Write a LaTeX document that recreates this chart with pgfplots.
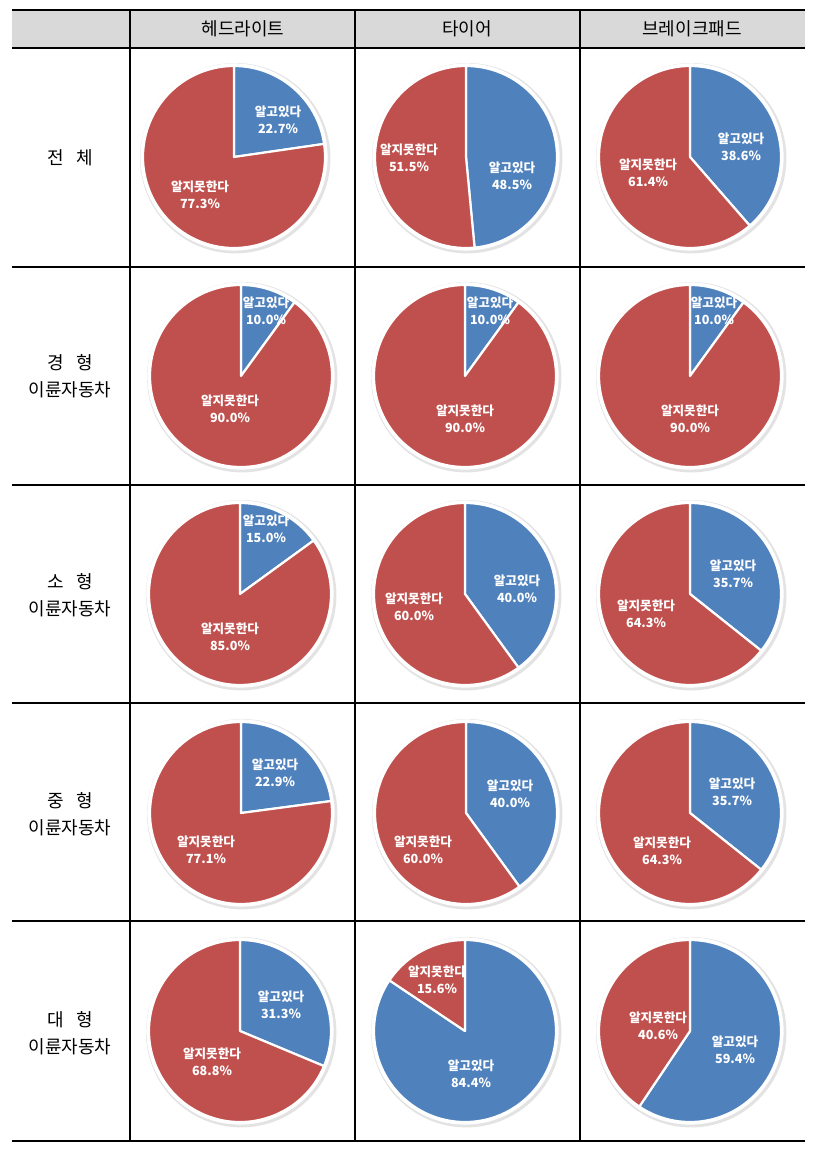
\documentclass[border=0pt]{standalone}
\usepackage{pgfplots}
\pgfplotsset{compat=1.18}
\usepackage{fontspec}
\setmainfont{Noto Sans CJK KR}
\definecolor{pblue}{HTML}{4F81BD}
\definecolor{pred}{HTML}{C0504D}
\definecolor{hgray}{HTML}{D9D9D9}
% pie: cx, cy, percentage of 알고있다 (clockwise from 12 o'clock)
\newcommand{\pie}[3]{%
  \fill[gray!22] (axis cs:#1,#2) ++(0.6pt,-0.6pt) circle[radius=47.6pt];
  \fill[white] (axis cs:#1,#2) circle[radius=46.8pt];
  \filldraw[pblue, draw=white, line width=1.1pt, line join=round]
    (axis cs:#1,#2) -- ++(90:45.5pt) arc[start angle=90, end angle={90-3.6*#3}, radius=45.5pt] -- cycle;
  \filldraw[pred, draw=white, line width=1.1pt, line join=round]
    (axis cs:#1,#2) -- ++({90-3.6*#3}:45.5pt) arc[start angle={90-3.6*#3}, end angle=-270, radius=45.5pt] -- cycle;
}
\newcommand{\lab}[3]{%
  \node[text=white, font=\fontsize{6.3}{8.6}\selectfont\bfseries, align=center, inner sep=0pt] at (axis cs:#1,#2) {#3};
}
\newcommand{\hfnt}{\fontsize{9}{13.5}\selectfont}
\begin{document}
\begin{tikzpicture}
\begin{axis}[scale only axis, width=409pt, height=574.5pt,
  xmin=0, xmax=818, ymin=0, ymax=1149, y dir=reverse,
  hide axis, clip=false]
\addplot[draw=none] coordinates {(0,0) (818,1149)};
% header band
\fill[hgray] (axis cs:12,10) rectangle (axis cs:805,48);
% horizontal lines
\draw[line width=1.1pt] (axis cs:12,10) -- (axis cs:805,10);
\draw[line width=0.6pt] (axis cs:12,48) -- (axis cs:805,48);
\draw[line width=0.6pt] (axis cs:12,267) -- (axis cs:805,267);
\draw[line width=0.6pt] (axis cs:12,485) -- (axis cs:805,485);
\draw[line width=0.6pt] (axis cs:12,703) -- (axis cs:805,703);
\draw[line width=0.6pt] (axis cs:12,921) -- (axis cs:805,921);
\draw[line width=1.1pt] (axis cs:12,1141) -- (axis cs:805,1141);
% vertical lines
\draw[line width=0.6pt] (axis cs:130,10) -- (axis cs:130,1141);
\draw[line width=0.6pt] (axis cs:355,10) -- (axis cs:355,1141);
\draw[line width=0.6pt] (axis cs:580,10) -- (axis cs:580,1141);
% headers
\node[font=\hfnt] at (axis cs:243,29) {헤드라이트};
\node[font=\hfnt] at (axis cs:467,29) {타이어};
\node[font=\hfnt] at (axis cs:692,29) {브레이크패드};
% row labels
\node[font=\hfnt] at (axis cs:70,158) {전\hspace{0.7em}체};
\node[font=\hfnt, align=center] at (axis cs:70,376) {경\hspace{0.7em}형\\이륜자동차};
\node[font=\hfnt, align=center] at (axis cs:70,595) {소\hspace{0.7em}형\\이륜자동차};
\node[font=\hfnt, align=center] at (axis cs:70,814) {중\hspace{0.7em}형\\이륜자동차};
\node[font=\hfnt, align=center] at (axis cs:70,1033) {대\hspace{0.7em}형\\이륜자동차};
% row 1: 전체
\pie{234}{157}{22.7}
\lab{278}{120}{알고있다\\22.7\%}
\lab{200}{195}{알지못한다\\77.3\%}
\pie{466}{157}{48.5}
\lab{512}{176}{알고있다\\48.5\%}
\lab{409}{158}{알지못한다\\51.5\%}
\pie{690}{157}{38.6}
\lab{741}{147}{알고있다\\38.6\%}
\lab{648}{173}{알지못한다\\61.4\%}
% row 2: 경형
\pie{241}{376}{10.0}
\lab{266}{311}{알고있다\\10.0\%}
\lab{230}{409}{알지못한다\\90.0\%}
\pie{465}{376}{10.0}
\lab{490}{311}{알고있다\\10.0\%}
\lab{465}{419}{알지못한다\\90.0\%}
\pie{690}{376}{10.0}
\lab{714}{311}{알고있다\\10.0\%}
\lab{690}{419}{알지못한다\\90.0\%}
% row 3: 소형
\pie{240}{594}{15.0}
\lab{266}{529}{알고있다\\15.0\%}
\lab{230}{637}{알지못한다\\85.0\%}
\pie{465}{594}{40.0}
\lab{517}{589}{알고있다\\40.0\%}
\lab{414}{607}{알지못한다\\60.0\%}
\pie{690}{594}{35.7}
\lab{733}{574}{알고있다\\35.7\%}
\lab{646}{614}{알지못한다\\64.3\%}
% row 4: 중형
\pie{241}{813}{22.9}
\lab{275}{773}{알고있다\\22.9\%}
\lab{206}{850}{알지못한다\\77.1\%}
\pie{466}{813}{40.0}
\lab{510}{794}{알고있다\\40.0\%}
\lab{423}{850}{알지못한다\\60.0\%}
\pie{690}{813}{35.7}
\lab{732}{792}{알고있다\\35.7\%}
\lab{662}{851}{알지못한다\\64.3\%}
% row 5: 대형
\pie{240}{1031}{31.3}
\lab{281}{1005}{알고있다\\31.3\%}
\lab{212}{1062}{알지못한다\\68.8\%}
\pie{465}{1031}{84.4}
\lab{471}{1074}{알고있다\\84.4\%}
\lab{437}{980}{알지못한다\\15.6\%}
\pie{690}{1031}{59.4}
\lab{735}{1050}{알고있다\\59.4\%}
\lab{658}{1026}{알지못한다\\40.6\%}
\end{axis}
\end{tikzpicture}
\end{document}
